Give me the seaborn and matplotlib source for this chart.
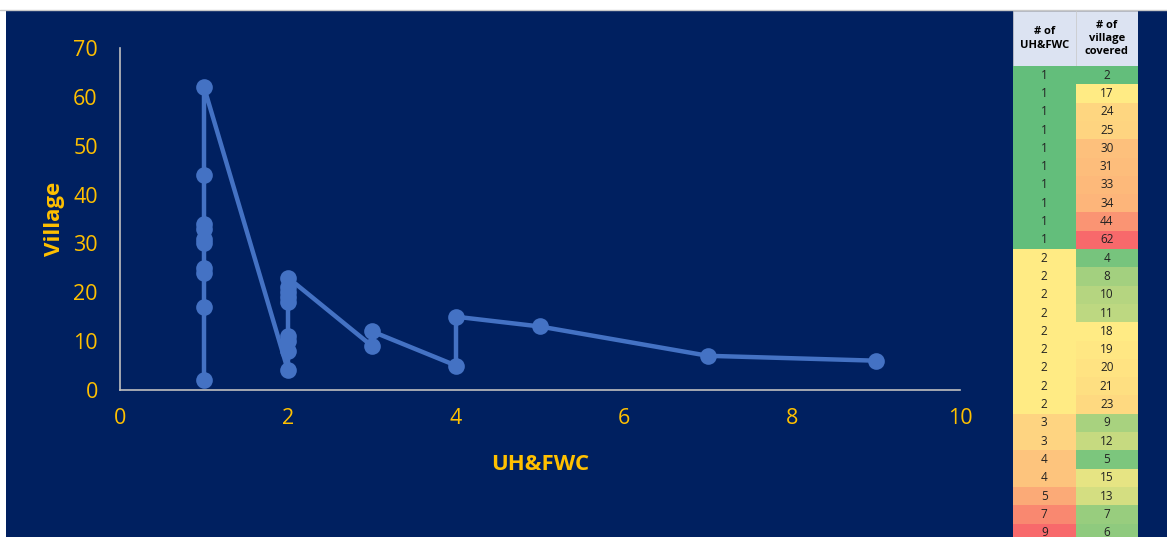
import numpy as np
import pandas as pd
import seaborn as sns
from matplotlib import pyplot as plt
from matplotlib.patches import Rectangle

uhfwc = [1, 1, 1, 1, 1, 1, 1, 1, 1, 1,
         2, 2, 2, 2, 2, 2, 2, 2, 2,
         3, 3, 4, 4, 5, 7, 9]
villages = [2, 17, 24, 25, 30, 31, 33, 34, 44, 62,
            4, 8, 10, 11, 18, 19, 20, 21, 23,
            9, 12, 5, 15, 13, 7, 6]
x_ticks = [0, 2, 4, 6, 8, 10]
y_ticks = [0, 10, 20, 30, 40, 50, 60, 70]

# conditional-format colours of the table cells
col1_colors = {1: '#63BE7B', 2: '#FFEB84', 3: '#FED481', 4: '#FDC47D',
               5: '#FBAA77', 7: '#F98870', 9: '#F8696B'}
col2_colors = ['#63BE7B', '#FFEB84', '#FED680', '#FED480', '#FDC07C', '#FDBD7B',
               '#FDB97A', '#FDB57A', '#FA9473', '#F8696B',
               '#77C47D', '#A3D07F', '#B5D580', '#BDD881', '#FFEB84', '#FFE783',
               '#FFE382', '#FEDF81', '#FED980',
               '#A8D27F', '#C6DA80', '#7CC67D', '#E6E483', '#D4DE81', '#98CD7E', '#8FCA7E']

navy = '#002060'
gold = '#FFC000'
W, H = 1167, 537

sns.set_style('white')
plt.rcParams['font.family'] = ['Open Sans', 'DejaVu Sans']

fig = plt.figure(figsize=(W / 100, H / 100), dpi=100, facecolor='white')
bg = fig.add_axes([6 / W, 0, 1 - 6 / W, (H - 11) / H])
bg.set_facecolor(navy)
bg.set_xticks([])
bg.set_yticks([])
for s in bg.spines.values():
    s.set_visible(False)

df = pd.DataFrame({'UH&FWC': uhfwc, 'Village': villages})

ax = fig.add_axes([120 / W, (H - 390) / H, 840 / W, 342 / H])
ax.patch.set_alpha(0)
sns.lineplot(data=df, x='UH&FWC', y='Village', sort=False, estimator=None,
             color='#4472C4', linewidth=3.2, marker='o', markersize=12,
             markeredgewidth=0, ax=ax)
ax.set_xlim(0, 10)
ax.set_ylim(0, 70)
ax.set_xticks(x_ticks)
ax.set_yticks(y_ticks)
ax.tick_params(colors=gold, labelsize=15.5, length=0)
ax.tick_params(axis='y', pad=16)
ax.tick_params(axis='x', pad=13)
for s in ['top', 'right']:
    ax.spines[s].set_visible(False)
for s in ['left', 'bottom']:
    ax.spines[s].set_color('#BFBFBF')
    ax.spines[s].set_linewidth(1.2)
ax.set_xlabel('UH&FWC', color=gold, fontsize=16, fontweight='bold', labelpad=18)
ax.set_ylabel('Village', color=gold, fontsize=16, fontweight='bold', labelpad=6)

# side table
tx0, tx1 = 1013, 1138
tab = fig.add_axes([tx0 / W, 0, (tx1 - tx0) / W, (H - 11) / H])
tab.set_xlim(0, tx1 - tx0)
tab.set_ylim(H - 11, 0)
tab.axis('off')
cw = (tx1 - tx0) / 2
hh = 55
rh = 18.3
grid = '#D0D0D0'
tab.add_patch(Rectangle((0, 0), cw, hh, facecolor='#DCE3F2', edgecolor=grid, lw=0.5))
tab.add_patch(Rectangle((cw, 0), cw, hh, facecolor='#DCE3F2', edgecolor=grid, lw=0.5))
tab.text(cw / 2, hh / 2, '# of\nUH&FWC', ha='center', va='center', fontsize=8,
         fontweight='bold', linespacing=1.3, color='black')
tab.text(cw * 1.5, hh / 2, '# of\nvillage\ncovered', ha='center', va='center', fontsize=8,
         fontweight='bold', linespacing=1.3, color='black')
for i, (u, v) in enumerate(zip(uhfwc, villages)):
    y = hh + i * rh
    tab.add_patch(Rectangle((0, y), cw, rh, facecolor=col1_colors[u], edgecolor='none'))
    tab.add_patch(Rectangle((cw, y), cw, rh, facecolor=col2_colors[i], edgecolor='none'))
    tab.text(cw / 2, y + rh / 2, str(u), ha='center', va='center', fontsize=8.5, color='#222222')
    tab.text(cw * 1.5, y + rh / 2, str(v), ha='center', va='center', fontsize=8.5, color='#222222')

fig.add_artist(plt.Line2D([0, 1], [(H - 10) / H, (H - 10) / H], color='#C8C8C8', lw=1))

fig.savefig('out.png', dpi=100, facecolor='white')
